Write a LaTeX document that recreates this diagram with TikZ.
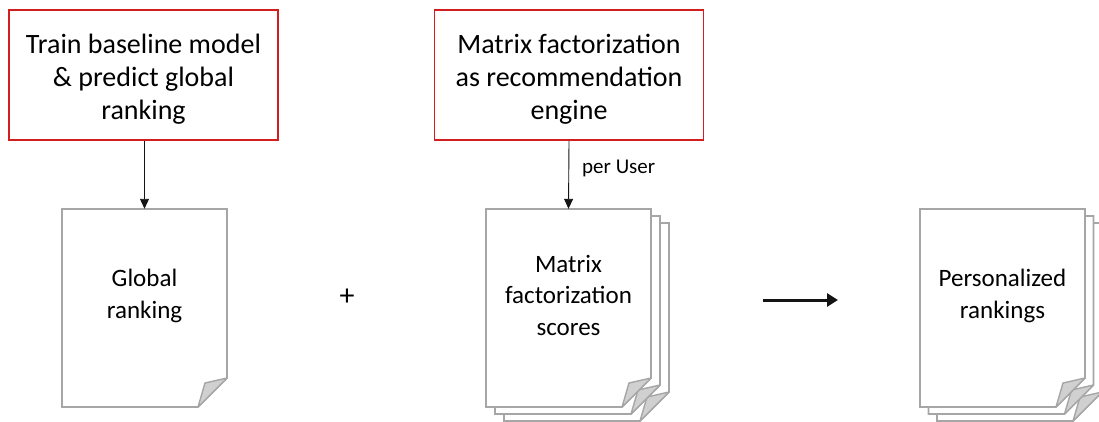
\documentclass[tikz,border=0pt]{standalone}
\usepackage{fontspec}
\setmainfont{Carlito}
\usetikzlibrary{arrows.meta}
\definecolor{boxred}{RGB}{210,30,30}
\definecolor{pagegray}{RGB}{166,166,166}
\definecolor{foldgray}{RGB}{208,208,208}
\definecolor{ink}{RGB}{20,20,20}
% one sheet of paper with a curled bottom-right corner; #1,#2 = top-left corner
\newcommand\papersheet[2]{%
  \filldraw[sheet] (#1,#2) -- ++(165,0) -- ++(0,169) -- ++(-29,29) -- ++(-136,0) -- cycle;
  \filldraw[fold] (#1+136,#2+198) -- (#1+143,#2+174) -- (#1+165,#2+169) -- cycle;
}
\tikzset{
  taskbox/.style={draw=boxred, line width=1.6pt, minimum width=269pt, minimum height=130pt,
    align=center, font=\fontsize{28}{33}\selectfont, inner sep=0pt},
  boxtext/.style={align=center, font=\fontsize{28}{33}\selectfont, inner sep=0pt},
  sheet/.style={draw=pagegray, fill=white, line width=1.6pt, line join=miter},
  fold/.style={draw=pagegray, fill=foldgray, line width=1.4pt, line join=round},
  doctext/.style={align=center, font=\fontsize{25}{31.5}\selectfont, inner sep=0pt},
  docanchor/.style={minimum width=165pt, minimum height=198pt, inner sep=0pt},
  thinarrow/.style={draw=ink, line width=0.9pt, -{Triangle[length=10pt,width=9pt]}},
  bigarrow/.style={draw=ink, line width=3pt, -{Triangle[length=11pt,width=13pt]}},
}
\begin{document}
\begin{tikzpicture}[x=1pt,y=-1pt]
\useasboundingbox (0,0) rectangle (1099,421);

% upper task boxes
\node[taskbox] (train) at (143.5,75) {};
\node[boxtext] (traintext) at (143.5,79) {Train baseline model\\ \& predict global\\ ranking};
\node[taskbox] (mf) at (569,75) {};
\node[boxtext] (mftext) at (569,79) {Matrix factorization\\ as recommendation\\ engine};

% single sheet: global ranking
\papersheet{62}{209}
\node[docanchor] (global) at (144.5,308) {};
\node[doctext] (globaltext) at (144.5,296) {Global\\ ranking};

% stacked sheets: matrix factorization scores
\papersheet{504}{223}
\papersheet{495}{216}
\papersheet{486}{209}
\node[docanchor] (scores) at (568.5,308) {};
\node[doctext] (scorestext) at (568.5,295) {Matrix\\ factorization\\ scores};

% stacked sheets: personalized rankings
\papersheet{937}{223}
\papersheet{928.5}{216}
\papersheet{920}{209}
\node[docanchor] (personal) at (1002.5,308) {};
\node[doctext] (personaltext) at (1002.5,296) {Personalized\\ rankings};

% plus sign and result arrow
\node[font=\fontsize{30}{30}\selectfont, inner sep=0pt] (plus) at (347,297) {+};
\coordinate (resA) at (763,300);
\coordinate (resB) at (838,300);
\draw[bigarrow] (resA) -- (resB);

% connectors
\draw[thinarrow] (train.south -| global.north) -- (global.north);
\draw[thinarrow] (mf.south) -- (scores.north);
\node[anchor=west, font=\fontsize{21}{21}\selectfont, inner sep=0pt] (peruser) at (582,168) {per User};
\end{tikzpicture}
\end{document}
